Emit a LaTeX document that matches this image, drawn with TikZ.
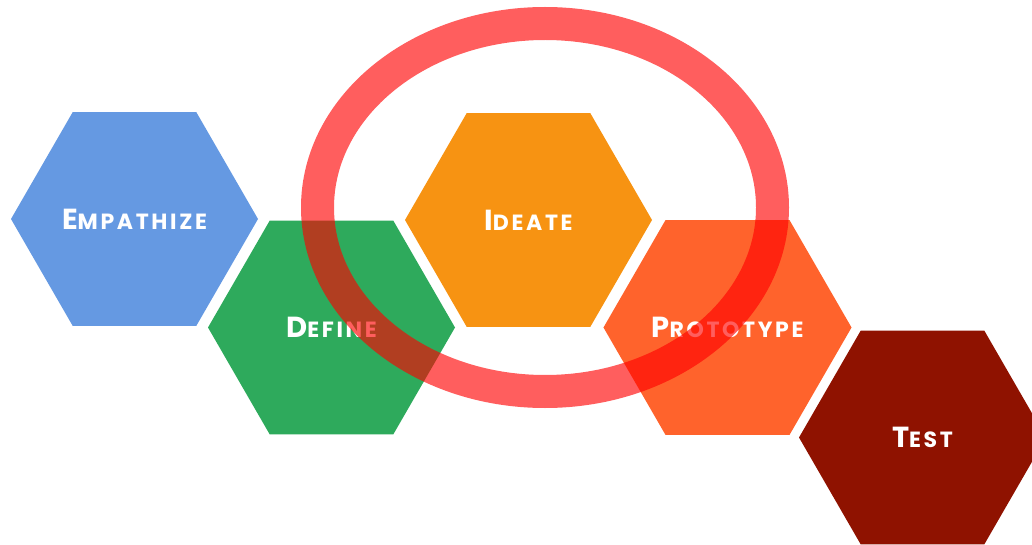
\documentclass[tikz,border=0pt]{standalone}
\usepackage{fontspec}
\newfontfamily\hexfont{Poppins}[LetterSpace=12]
\usetikzlibrary{shapes.geometric}

\definecolor{hexblue}{RGB}{101,153,226}
\definecolor{hexgreen}{RGB}{46,170,92}
\definecolor{hexorange}{RGB}{247,147,18}
\definecolor{hexcoral}{RGB}{255,99,44}
\definecolor{hexbrown}{RGB}{143,18,0}

% first letter large, the rest as small capitals
\newcommand{\hexcaps}[2]{{\fontsize{29}{29}\selectfont #1}{\fontsize{22}{22}\selectfont #2}}

\begin{document}
\begin{tikzpicture}[
		x=1pt, y=-1pt,
		hex/.style	={ regular polygon, regular polygon sides=6,
			minimum size=247pt, inner sep=0pt, outer sep=0pt,
			text=white, font=\hexfont\bfseries,
		},
		halo/.style	={ ellipse, minimum width=455pt, minimum height=368pt,
			draw=red, draw opacity=0.63, line width=33pt,
		},
	]
	
	\fill [white] (0,0) rectangle (1032,545);
	\useasboundingbox (0,0) rectangle (1032,545);
	
	\def\hexlist{ 134.5/219/empathize/hexblue/E/MPATHIZE, 331.5/327.5/define/hexgreen/D/EFINE,
		528.5/220/ideate/hexorange/I/DEATE, 727.5/327.5/prototype/hexcoral/P/ROTOTYPE,
		922.5/437.5/test/hexbrown/T/EST}
	
	% draw hexagons
	\foreach \x/\y/\n/\c/\f/\r in \hexlist
		\node [hex, fill=\c] (hex_\n) at (\x,\y) {\hexcaps{\f}{\r}};
	
	% draw ring round ideate
	\node [halo] (halo_ideate) at (545,207.5) {};
	
\end{tikzpicture}
\end{document}
